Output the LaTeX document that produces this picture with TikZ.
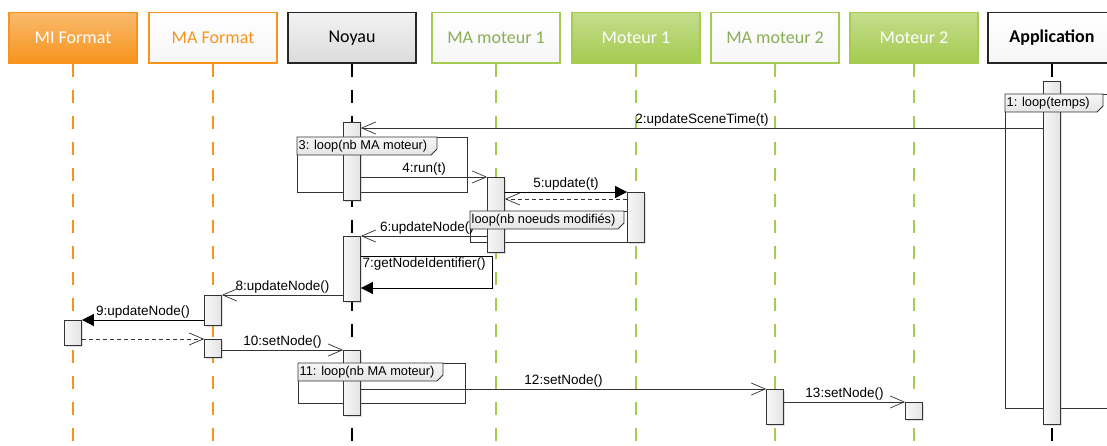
\documentclass[tikz,border=0pt]{standalone}
\usepackage{fontspec}
\setmainfont{Liberation Sans}
\newfontfamily\headfont{Carlito}
\usetikzlibrary{arrows.meta, positioning, shadows}
\definecolor{fmtorange}{HTML}{F7941D}
\definecolor{motgreen}{HTML}{A5CB50}
\definecolor{motgreentext}{HTML}{8AAE55}
\tikzset{
  headbox/.style={rectangle, line width=1.3pt, minimum width=128pt, minimum height=50.5pt,
                  inner sep=0pt, font=\headfont\fontsize{18}{20}\selectfont,
                  drop shadow={shadow xshift=1.2pt, shadow yshift=-1.2pt, opacity=0.3}},
  mibox/.style={headbox, draw=fmtorange, top color=fmtorange!65, bottom color=fmtorange, text=white},
  mabox/.style={headbox, draw=fmtorange, top color=white, bottom color=gray!7, text=fmtorange},
  corebox/.style={headbox, draw=black!85, top color=gray!10, bottom color=gray!28, text=black},
  mamotbox/.style={headbox, draw=motgreen, top color=white, bottom color=gray!7, text=motgreentext},
  motbox/.style={headbox, draw=motgreen, top color=motgreen!65, bottom color=motgreen, text=white},
  appbox/.style={headbox, draw=black!85, top color=white, bottom color=gray!7, text=black,
                 font=\headfont\bfseries\fontsize{18}{20}\selectfont},
  lifeline/.style={line width=1.6pt, dash pattern=on 13pt off 13pt},
  actbar/.style={draw=black!80, line width=0.8pt, left color=gray!6, right color=gray!22,
                 minimum width=17pt, inner sep=0pt, anchor=north,
                 drop shadow={shadow xshift=1.5pt, shadow yshift=-1.5pt, opacity=0.25}},
  callarr/.style={draw=black!80, line width=0.8pt,
                  -{Straight Barb[length=14pt, width=12pt, line width=0.7pt]}},
  syncarr/.style={draw=black, line width=0.8pt, -{Triangle[length=12pt, width=12pt]}},
  retarr/.style={callarr, dash pattern=on 4pt off 3pt},
  msglabel/.style={font=\fontsize{13.5}{15}\selectfont, inner sep=1.5pt},
  loopframe/.style={draw=black!80, line width=0.8pt, inner sep=0pt, anchor=north west},
  looptab/.style={draw=black!80, line width=0.8pt, top color=gray!6, bottom color=gray!20},
  looplabel/.style={font=\fontsize{12.8}{14}\selectfont, inner xsep=1.5pt, inner ysep=0pt,
                    minimum height=18pt, anchor=north west},
}

\begin{document}
\begin{tikzpicture}[x=1pt, y=-1pt]
  \useasboundingbox[fill=white] (0,0) rectangle (1107,446);

  \foreach \n/\s/\x/\t in {mifH/mibox/73/MI Format, mafH/mabox/213/MA Format,
      noyH/corebox/352/Noyau, mam1H/mamotbox/496/MA moteur 1, mot1H/motbox/636/Moteur 1,
      mam2H/mamotbox/775/MA moteur 2, mot2H/motbox/914/Moteur 2, appH/appbox/1052/Application} {
    \node[\s] (\n) at (\x,37.75) {\t};
  }

  \foreach \h/\c/\lw in {mifH/fmtorange/1.6, mafH/fmtorange/1.6, noyH/black/1.2, mam1H/motgreen/1.6,
      mot1H/motgreen/1.6, mam2H/motgreen/1.6, mot2H/motgreen/1.6, appH/black/1.2} {
    \draw[lifeline, draw=\c, line width=\lw pt] (\h.south) -- (\h.south |- 0,446);
  }

  % combined fragments
  \node[loopframe, minimum width=115pt, minimum height=314pt] (lp1) at (1005,94) {};
  \node[loopframe, minimum width=170pt, minimum height=55pt] (lp3) at (297,137) {};
  \node[loopframe, minimum width=157.5pt, minimum height=31pt] (lpn) at (470,211) {};
  \node[loopframe, minimum width=167pt, minimum height=40pt] (lp11) at (298,363) {};

  % activations
  \node[actbar, minimum height=343pt] (appA) at (appH |- 0,81) {};
  \node[actbar, minimum height=78pt] (noyA1) at (noyH |- 0,122) {};
  \node[actbar, minimum height=75pt] (mam1A) at (mam1H |- 0,177) {};
  \node[actbar, minimum height=50pt] (mot1A) at (mot1H |- 0,192) {};
  \node[actbar, minimum height=65pt] (noyA2) at (noyH |- 0,236) {};
  \node[actbar, minimum height=30pt] (mafA1) at (mafH |- 0,295) {};
  \node[actbar, minimum height=25pt] (mifA) at (mifH |- 0,320) {};
  \node[actbar, minimum height=18pt] (mafA2) at (mafH |- 0,339) {};
  \node[actbar, minimum height=65pt] (noyA3) at (noyH |- 0,350) {};
  \node[actbar, minimum height=35pt] (mam2A) at (mam2H |- 0,389) {};
  \node[actbar, minimum height=17pt] (mot2A) at (mot2H |- 0,402) {};

  % messages
  \coordinate (m2) at ([yshift=-6pt]noyA1.north east);
  \draw[callarr] (appA.west |- m2) -- node[msglabel, above] (l2) {2:updateSceneTime(t)} (m2);
  \draw[callarr] (noyA1.east |- mam1A.north) -- node[msglabel, above] (l4) {4:run(t)} (mam1A.north west);
  \draw[syncarr] (mam1A.east |- mot1A.north) -- node[msglabel, above] (l5) {5:update(t)} (mot1A.north west);
  \coordinate (r5) at ([yshift=-7pt]mot1A.north west);
  \draw[retarr] (r5) -- (mam1A.east |- r5);
  \draw[callarr] (mam1A.west |- noyA2.north) -- node[msglabel, above, xshift=3pt] (l6) {6:updateNode()} (noyA2.north east);
  \coordinate (m7a) at ([yshift=-20pt]noyA2.north east);
  \coordinate (m7b) at ([yshift=-52pt]noyA2.north east);
  \coordinate (m7c) at ([xshift=5pt]mam1A.west);
  \draw[syncarr] (m7a) -| (m7c |- m7b) -- (m7b);
  \node[msglabel, anchor=north west] (l7) at (m7a) {7:getNodeIdentifier()};
  \draw[callarr] (noyA2.west |- mafA1.north) -- node[msglabel, above] (l8) {8:updateNode()} (mafA1.north east);
  \draw[syncarr] (mafA1.west |- mifA.north) -- node[msglabel, above] (l9) {9:updateNode()} (mifA.north east);
  \draw[retarr] (mifA.east |- mafA2.north) -- (mafA2.north west);
  \draw[callarr] (mafA2.east |- noyA3.north) -- node[msglabel, above] (l10) {10:setNode()} (noyA3.north west);
  \draw[callarr] (noyA3.east |- mam2A.north) -- node[msglabel, above] (l12) {12:setNode()} (mam2A.north west);
  \draw[callarr] (mam2A.east |- mot2A.north) -- node[msglabel, above] (l13) {13:setNode()} (mot2A.north west);

  % fragment tabs
  \foreach \f/\w/\t in {lp1/98/{1: loop(temps)}, lp3/140/{3: loop(nb MA moteur)},
      lpn/154/{loop(nb noeuds modifiés)}, lp11/145/{11: loop(nb MA moteur)}} {
    \draw[looptab] (\f.north west) -- ++(\w,0) -- ++(0,12) -- ++(-6,6) -- ++({6-\w},0) -- cycle;
    \node[looplabel] (\f tab) at (\f.north west) {\t};
  }
\end{tikzpicture}
\end{document}
